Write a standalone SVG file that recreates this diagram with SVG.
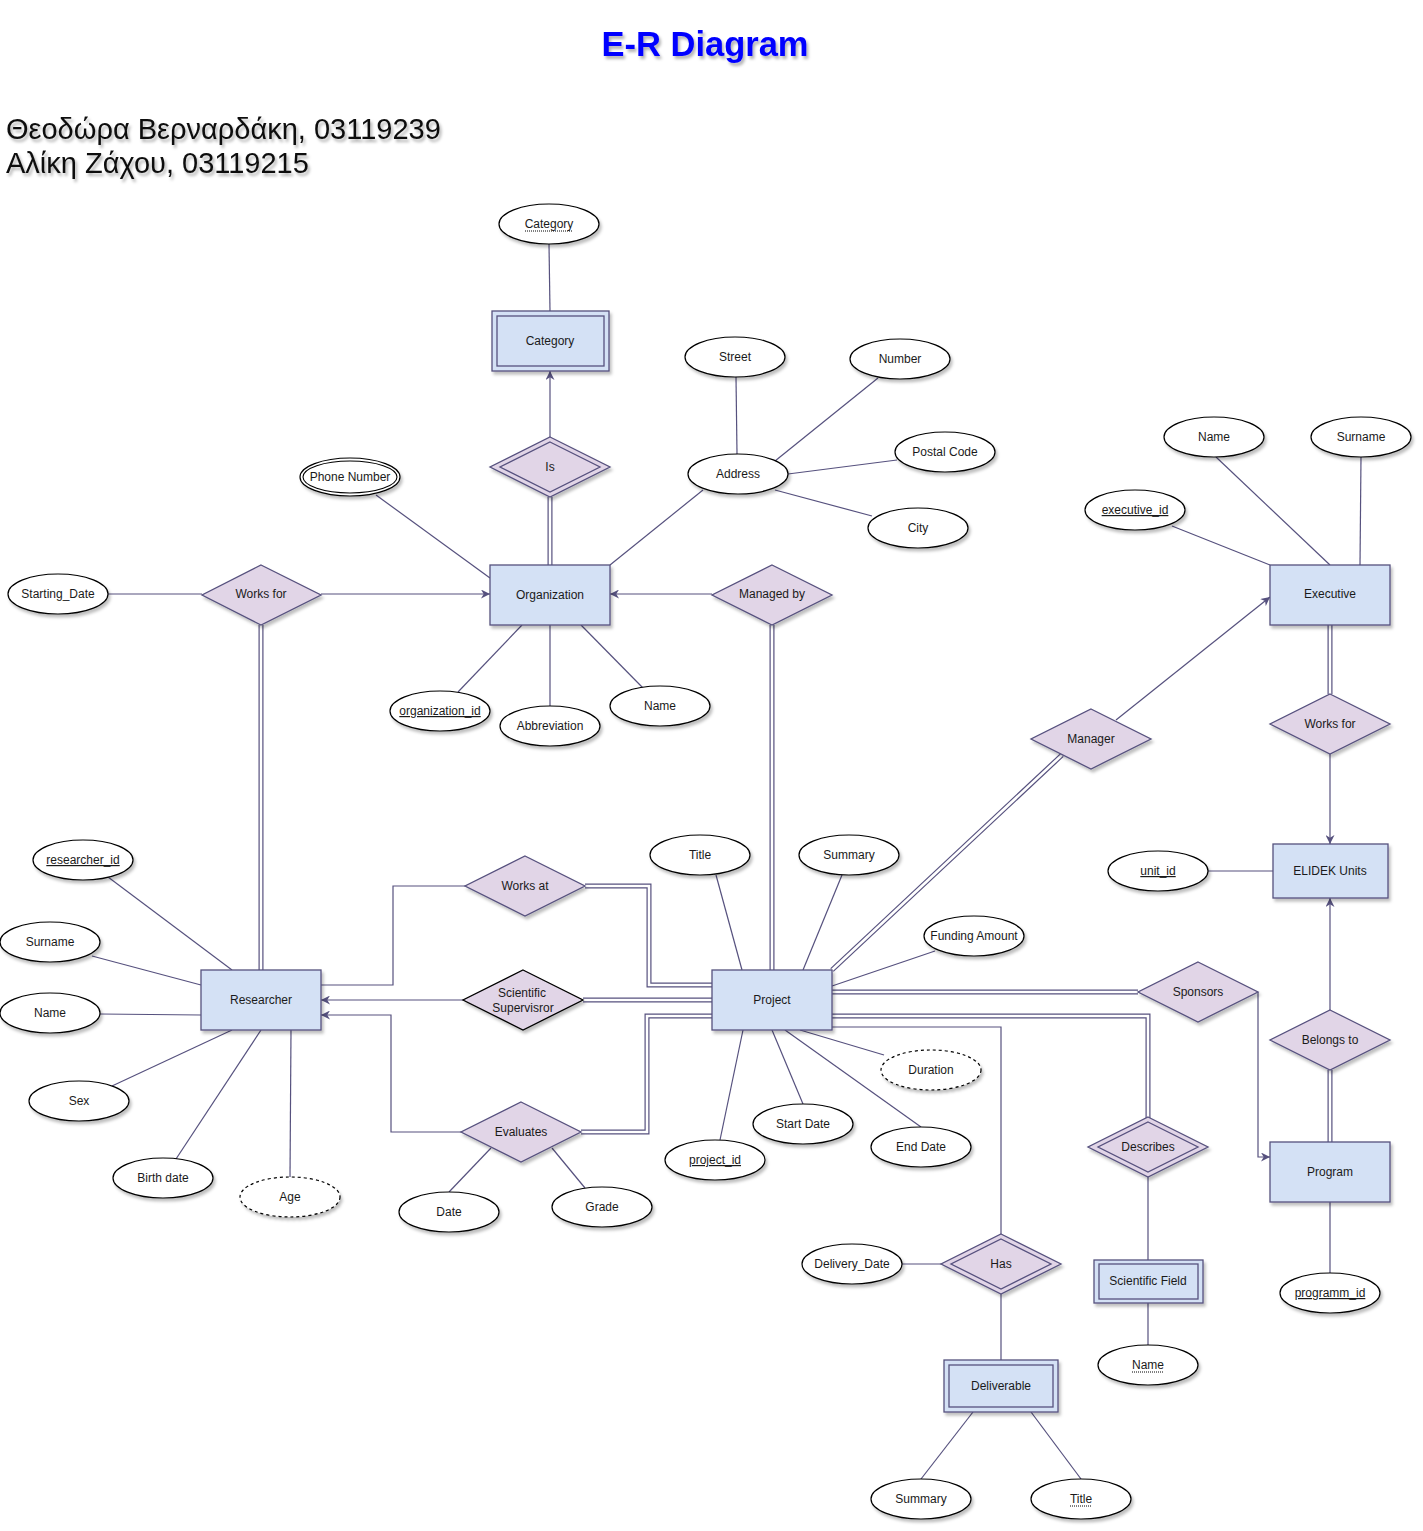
<svg xmlns="http://www.w3.org/2000/svg" width="1423" height="1531" viewBox="0 0 1423 1531">
<defs>
<filter id="sh" x="-20%" y="-20%" width="150%" height="160%">
<feDropShadow dx="2" dy="3" stdDeviation="1.5" flood-color="#000" flood-opacity="0.25"/>
</filter>
<filter id="tsh" x="-5%" y="-20%" width="110%" height="150%">
<feDropShadow dx="2" dy="3" stdDeviation="1.5" flood-color="#000" flood-opacity="0.3"/>
</filter>
<marker id="arr" viewBox="0 0 10 10" refX="10" refY="5" markerWidth="9" markerHeight="9" markerUnits="userSpaceOnUse" orient="auto">
<path d="M0,0 L10,5 L0,10 L3,5 Z" fill="#56517E"/>
</marker>
</defs>
<style>
.ent{fill:#D4E1F5;stroke:#56517E;stroke-width:1.3;filter:url(#sh)}
.ent2{fill:none;stroke:#56517E;stroke-width:1.3}
.rel{fill:#E1D5E7;stroke:#56517E;stroke-width:1.3;filter:url(#sh)}
.rel2{fill:none;stroke:#56517E;stroke-width:1.3}
.att{fill:#fff;stroke:#000;stroke-width:1.2;filter:url(#sh)}
.dash{stroke-dasharray:3,3}
.t{font-family:"Liberation Sans",Arial,sans-serif;font-size:12px;fill:#1a1a1a;text-anchor:middle}
.u{text-decoration:underline}
.ln{fill:none;stroke:#56517E;stroke-width:1.2}
.dbo{fill:none;stroke:#56517E;stroke-width:5}
.dbi{fill:none;stroke:#fff;stroke-width:2.6}
.dot{stroke:#000;stroke-width:1;stroke-dasharray:1,1}
</style>
<rect width="1423" height="1531" fill="#fff"/>

<text x="705" y="56" font-family="Liberation Sans,Arial,sans-serif" font-size="34.5" font-weight="bold" fill="#0000FF" text-anchor="middle" filter="url(#tsh)">E-R Diagram</text>
<text x="6" y="139" font-family="Liberation Sans,Arial,sans-serif" font-size="29" fill="#111" filter="url(#tsh)">Θεοδώρα Βερναρδάκη, 03119239</text>
<text x="6" y="173" font-family="Liberation Sans,Arial,sans-serif" font-size="29" fill="#111" filter="url(#tsh)">Αλίκη Ζάχου, 03119215</text>

<g id="connectors">
<path class="dbo" d="M550,497 V565"/><path class="dbi" d="M550,497 V565"/>
<path class="dbo" d="M261,625 V970"/><path class="dbi" d="M261,625 V970"/>
<path class="dbo" d="M772,625 V970"/><path class="dbi" d="M772,625 V970"/>
<path class="dbo" d="M1062,755 L832,970"/><path class="dbi" d="M1062,755 L832,970"/>
<path class="dbo" d="M1330,625 V694"/><path class="dbi" d="M1330,625 V694"/>
<path class="dbo" d="M1330,1070 V1142"/><path class="dbi" d="M1330,1070 V1142"/>
<path class="dbo" d="M832,992 H1138"/><path class="dbi" d="M832,992 H1138"/>
<path class="dbo" d="M832,1016 H1148 V1118"/><path class="dbi" d="M832,1016 H1148 V1118"/>
<path class="dbo" d="M585,886 H649 V985 H712"/><path class="dbi" d="M585,886 H649 V985 H712"/>
<path class="dbo" d="M583,1000 H712"/><path class="dbi" d="M583,1000 H712"/>
<path class="dbo" d="M581,1132 H647 V1016 H712"/><path class="dbi" d="M581,1132 H647 V1016 H712"/>
<path class="ln" d="M549,244 L550,311"/>
<path class="ln" d="M550,437 V371" marker-end="url(#arr)"/>
<path class="ln" d="M376,495 L490,578"/>
<path class="ln" d="M703,490 L610,565"/>
<path class="ln" d="M737,454 L736,377"/>
<path class="ln" d="M775,461 L878,378"/>
<path class="ln" d="M788,474 L897,460"/>
<path class="ln" d="M775,490 L872,516"/>
<path class="ln" d="M108,594 H202"/>
<path class="ln" d="M321,594 H490" marker-end="url(#arr)"/>
<path class="ln" d="M712,594 H610" marker-end="url(#arr)"/>
<path class="ln" d="M522,625 L458,692"/>
<path class="ln" d="M550,625 V706"/>
<path class="ln" d="M581,625 L643,688"/>
<path class="ln" d="M1216,457 L1330,565"/>
<path class="ln" d="M1361,457 L1360,565"/>
<path class="ln" d="M1172,526 L1270,565"/>
<path class="ln" d="M1116,720 L1270,597" marker-end="url(#arr)"/>
<path class="ln" d="M1330,754 V844" marker-end="url(#arr)"/>
<path class="ln" d="M1208,871 H1273"/>
<path class="ln" d="M1330,1010 V898" marker-end="url(#arr)"/>
<path class="ln" d="M1330,1202 V1273"/>
<path class="ln" d="M1258,992 V1157 H1270" marker-end="url(#arr)"/>
<path class="ln" d="M1148,1177 V1260"/>
<path class="ln" d="M1148,1303 V1345"/>
<path class="ln" d="M832,1027 H1001 V1234"/>
<path class="ln" d="M1001,1294 V1360"/>
<path class="ln" d="M902,1264 H941"/>
<path class="ln" d="M973,1412 L921,1479"/>
<path class="ln" d="M1031,1412 L1081,1479"/>
<path class="ln" d="M716,875 L742,970"/>
<path class="ln" d="M842,875 L803,970"/>
<path class="ln" d="M935,951 L832,986"/>
<path class="ln" d="M884,1055 L800,1030"/>
<path class="ln" d="M772,1030 L803,1104"/>
<path class="ln" d="M785,1030 L921,1127"/>
<path class="ln" d="M743,1030 L720,1140"/>
<path class="ln" d="M108,877 L232,970"/>
<path class="ln" d="M92,956 L201,985"/>
<path class="ln" d="M100,1014 L201,1015"/>
<path class="ln" d="M112,1086 L232,1030"/>
<path class="ln" d="M176,1159 L261,1030"/>
<path class="ln" d="M290,1177 L291,1030"/>
<path class="ln" d="M321,985 H393 V886 H465"/>
<path class="ln" d="M463,1000 H321" marker-end="url(#arr)"/>
<path class="ln" d="M461,1132 H391 V1015 H321" marker-end="url(#arr)"/>
<path class="ln" d="M491,1148 L449,1192"/>
<path class="ln" d="M552,1148 L585,1188"/>
</g>

<g id="category"><rect class="ent" x="492" y="311" width="117" height="60"/><rect class="ent2" x="497" y="316" width="107" height="50"/><text class="t" x="550" y="345">Category</text></g>
<g id="organization"><rect class="ent" x="490" y="565" width="120" height="60"/><text class="t" x="550" y="599">Organization</text></g>
<g id="executive"><rect class="ent" x="1270" y="565" width="120" height="60"/><text class="t" x="1330" y="598">Executive</text></g>
<g id="elidek"><rect class="ent" x="1273" y="844" width="115" height="54"/><text class="t" x="1330" y="875">ELIDEK Units</text></g>
<g id="researcher"><rect class="ent" x="201" y="970" width="120" height="60"/><text class="t" x="261" y="1004">Researcher</text></g>
<g id="project"><rect class="ent" x="712" y="970" width="120" height="60"/><text class="t" x="772" y="1004">Project</text></g>
<g id="program"><rect class="ent" x="1270" y="1142" width="120" height="60"/><text class="t" x="1330" y="1176">Program</text></g>
<g id="scientific-field"><rect class="ent" x="1094" y="1260" width="109" height="43"/><rect class="ent2" x="1099" y="1264" width="99" height="35"/><text class="t" x="1148" y="1285">Scientific Field</text></g>
<g id="deliverable"><rect class="ent" x="944" y="1360" width="114" height="52"/><rect class="ent2" x="949" y="1365" width="104" height="42"/><text class="t" x="1001" y="1390">Deliverable</text></g>

<g id="rel-is"><path class="rel" d="M550,437 L610,467 L550,497 L490,467 Z"/><path class="rel2" d="M550,442 L600,467 L550,492 L500,467 Z"/><text class="t" x="550" y="471">Is</text></g>
<g id="rel-worksfor-org"><path class="rel" d="M261,565 L321,595 L261,625 L202,595 Z"/><text class="t" x="261" y="598">Works for</text></g>
<g id="rel-managedby"><path class="rel" d="M772,565 L832,595 L772,625 L712,595 Z"/><text class="t" x="772" y="598">Managed by</text></g>
<g id="rel-manager"><path class="rel" d="M1091,709 L1151,739 L1091,769 L1031,739 Z"/><text class="t" x="1091" y="743">Manager</text></g>
<g id="rel-worksfor-exec"><path class="rel" d="M1330,694 L1390,724 L1330,754 L1270,724 Z"/><text class="t" x="1330" y="728">Works for</text></g>
<g id="rel-worksat"><path class="rel" d="M525,856 L585,886 L525,916 L465,886 Z"/><text class="t" x="525" y="890">Works at</text></g>
<g id="rel-supervisor"><path class="rel" style="stroke:#000" d="M523,970 L583,1000 L523,1030 L463,1000 Z"/><text class="t" x="522" y="997">Scientific</text><text class="t" x="523" y="1012">Supervisror</text></g>
<g id="rel-evaluates"><path class="rel" d="M521,1102 L581,1132 L521,1162 L461,1132 Z"/><text class="t" x="521" y="1136">Evaluates</text></g>
<g id="rel-sponsors"><path class="rel" d="M1198,962 L1258,992 L1198,1022 L1138,992 Z"/><text class="t" x="1198" y="996">Sponsors</text></g>
<g id="rel-belongs"><path class="rel" d="M1330,1010 L1390,1040 L1330,1070 L1270,1040 Z"/><text class="t" x="1330" y="1044">Belongs to</text></g>
<g id="rel-describes"><path class="rel" d="M1148,1117 L1208,1147 L1148,1177 L1088,1147 Z"/><path class="rel2" d="M1148,1122 L1198,1147 L1148,1172 L1098,1147 Z"/><text class="t" x="1148" y="1151">Describes</text></g>
<g id="rel-has"><path class="rel" d="M1001,1234 L1061,1264 L1001,1294 L941,1264 Z"/><path class="rel2" d="M1001,1239 L1051,1264 L1001,1289 L951,1264 Z"/><text class="t" x="1001" y="1268">Has</text></g>

<g id="att-category"><ellipse class="att" cx="549" cy="224" rx="50" ry="20"/><text class="t" x="549" y="228">Category</text><line class="dot" x1="525" y1="231" x2="573" y2="231"/></g>
<g id="att-street"><ellipse class="att" cx="735" cy="357" rx="50" ry="20"/><text class="t" x="735" y="361">Street</text></g>
<g id="att-number"><ellipse class="att" cx="900" cy="359" rx="50" ry="20"/><text class="t" x="900" y="363">Number</text></g>
<g id="att-postal"><ellipse class="att" cx="945" cy="452" rx="50" ry="20"/><text class="t" x="945" y="456">Postal Code</text></g>
<g id="att-city"><ellipse class="att" cx="918" cy="528" rx="50" ry="20"/><text class="t" x="918" y="532">City</text></g>
<g id="att-address"><ellipse class="att" cx="738" cy="474" rx="50" ry="20"/><text class="t" x="738" y="478">Address</text></g>
<g id="att-phone"><ellipse class="att" cx="350" cy="477" rx="50" ry="19"/><ellipse cx="350" cy="477" rx="47" ry="16" fill="none" stroke="#000" stroke-width="1.1"/><text class="t" x="350" y="481">Phone Number</text></g>
<g id="att-exec-name"><ellipse class="att" cx="1214" cy="437" rx="50" ry="20"/><text class="t" x="1214" y="441">Name</text></g>
<g id="att-exec-surname"><ellipse class="att" cx="1361" cy="437" rx="50" ry="20"/><text class="t" x="1361" y="441">Surname</text></g>
<g id="att-exec-id"><ellipse class="att" cx="1135" cy="510" rx="50" ry="20"/><text class="t u" x="1135" y="514">executive_id</text></g>
<g id="att-starting"><ellipse class="att" cx="58" cy="594" rx="50" ry="20"/><text class="t" x="58" y="598">Starting_Date</text></g>
<g id="att-org-id"><ellipse class="att" cx="440" cy="711" rx="50" ry="20"/><text class="t u" x="440" y="715">organization_id</text></g>
<g id="att-abbrev"><ellipse class="att" cx="550" cy="726" rx="50" ry="20"/><text class="t" x="550" y="730">Abbreviation</text></g>
<g id="att-org-name"><ellipse class="att" cx="660" cy="706" rx="50" ry="20"/><text class="t" x="660" y="710">Name</text></g>
<g id="att-res-id"><ellipse class="att" cx="83" cy="860" rx="50" ry="20"/><text class="t u" x="83" y="864">researcher_id</text></g>
<g id="att-res-surname"><ellipse class="att" cx="50" cy="942" rx="50" ry="20"/><text class="t" x="50" y="946">Surname</text></g>
<g id="att-res-name"><ellipse class="att" cx="50" cy="1013" rx="50" ry="20"/><text class="t" x="50" y="1017">Name</text></g>
<g id="att-sex"><ellipse class="att" cx="79" cy="1101" rx="50" ry="20"/><text class="t" x="79" y="1105">Sex</text></g>
<g id="att-birth"><ellipse class="att" cx="163" cy="1178" rx="50" ry="20"/><text class="t" x="163" y="1182">Birth date</text></g>
<g id="att-age"><ellipse class="att dash" cx="290" cy="1197" rx="50" ry="20"/><text class="t" x="290" y="1201">Age</text></g>
<g id="att-date"><ellipse class="att" cx="449" cy="1212" rx="50" ry="20"/><text class="t" x="449" y="1216">Date</text></g>
<g id="att-grade"><ellipse class="att" cx="602" cy="1207" rx="50" ry="20"/><text class="t" x="602" y="1211">Grade</text></g>
<g id="att-title"><ellipse class="att" cx="700" cy="855" rx="50" ry="20"/><text class="t" x="700" y="859">Title</text></g>
<g id="att-summary"><ellipse class="att" cx="849" cy="855" rx="50" ry="20"/><text class="t" x="849" y="859">Summary</text></g>
<g id="att-funding"><ellipse class="att" cx="974" cy="936" rx="50" ry="20"/><text class="t" x="974" y="940">Funding Amount</text></g>
<g id="att-unit-id"><ellipse class="att" cx="1158" cy="871" rx="50" ry="20"/><text class="t u" x="1158" y="875">unit_id</text></g>
<g id="att-duration"><ellipse class="att dash" cx="931" cy="1070" rx="50" ry="20"/><text class="t" x="931" y="1074">Duration</text></g>
<g id="att-start"><ellipse class="att" cx="803" cy="1124" rx="50" ry="20"/><text class="t" x="803" y="1128">Start Date</text></g>
<g id="att-end"><ellipse class="att" cx="921" cy="1147" rx="50" ry="20"/><text class="t" x="921" y="1151">End Date</text></g>
<g id="att-project-id"><ellipse class="att" cx="715" cy="1160" rx="50" ry="20"/><text class="t u" x="715" y="1164">project_id</text></g>
<g id="att-delivery"><ellipse class="att" cx="852" cy="1264" rx="50" ry="20"/><text class="t" x="852" y="1268">Delivery_Date</text></g>
<g id="att-sf-name"><ellipse class="att" cx="1148" cy="1365" rx="50" ry="20"/><text class="t" x="1148" y="1369">Name</text><line class="dot" x1="1132" y1="1372" x2="1164" y2="1372"/></g>
<g id="att-program-id"><ellipse class="att" cx="1330" cy="1293" rx="50" ry="20"/><text class="t u" x="1330" y="1297">programm_id</text></g>
<g id="att-del-summary"><ellipse class="att" cx="921" cy="1499" rx="50" ry="20"/><text class="t" x="921" y="1503">Summary</text></g>
<g id="att-del-title"><ellipse class="att" cx="1081" cy="1499" rx="50" ry="20"/><text class="t" x="1081" y="1503">Title</text><line class="dot" x1="1070" y1="1506" x2="1092" y2="1506"/></g>
</svg>
